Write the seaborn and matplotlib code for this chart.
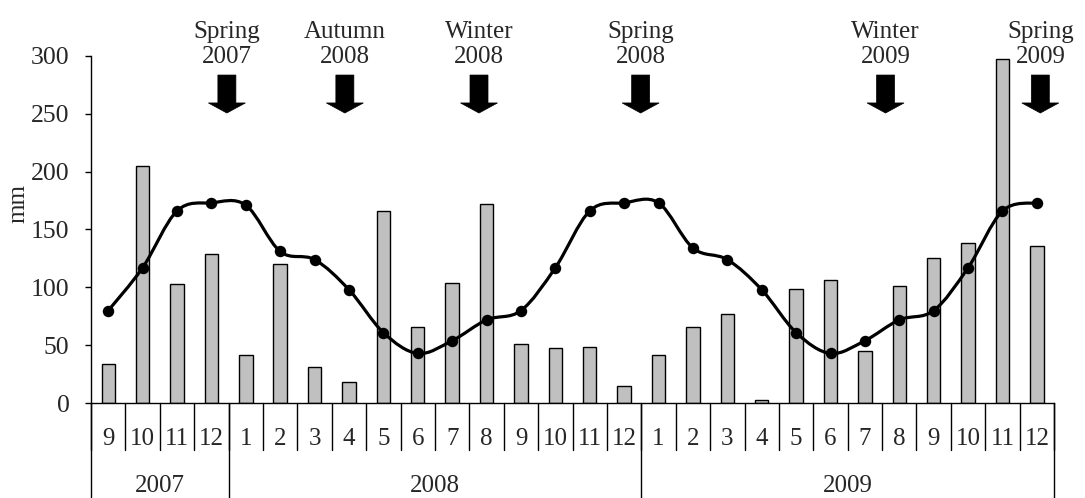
import numpy as np
import pandas as pd
import matplotlib
matplotlib.use("Agg")
import matplotlib.pyplot as plt
import seaborn as sns
from matplotlib.path import Path
from matplotlib.patches import PathPatch, Polygon
from matplotlib.transforms import blended_transform_factory

# ---------------- data ----------------
months = [9, 10, 11, 12,
          1, 2, 3, 4, 5, 6, 7, 8, 9, 10, 11, 12,
          1, 2, 3, 4, 5, 6, 7, 8, 9, 10, 11, 12]
years = [2007] * 4 + [2008] * 12 + [2009] * 12
rainfall = [34, 205, 103, 129,
            42, 120, 31, 18, 166, 66, 104, 172, 51, 48, 49, 15,
            42, 66, 77, 3, 99, 106, 45, 101, 125, 138, 297, 136]
longterm_mean = [80, 117, 166, 173,
                 171, 131, 124, 98, 61, 43, 54, 72, 80, 117, 166, 173,
                 173, 134, 124, 98, 61, 43, 54, 72, 80, 117, 166, 173]
year_labels = ["2007", "2008", "2009"]
season_labels = ["Spring\n2007", "Autumn\n2008", "Winter\n2008",
                 "Spring\n2008", "Winter\n2009", "Spring\n2009"]
season_pos = [3.45, 6.88, 10.78, 15.48, 22.6, 27.1]

# ---------------- style ----------------
sns.set_theme(style="white")
plt.rcParams["font.family"] = ["Liberation Serif", "DejaVu Serif"]

df = pd.DataFrame({
    "key": [f"{y}-{m:02d}" for y, m in zip(years, months)],
    "month": months,
    "year": years,
    "rain": rainfall,
    "mean": longterm_mean,
})
n = len(df)
xpos = np.arange(n)

fig = plt.figure(figsize=(10.85, 4.98), dpi=100)
ax = fig.add_axes([0.0839, 0.1902, 0.8876, 0.698])

sns.barplot(data=df, x="key", y="rain", order=list(df["key"]), ax=ax,
            color="#C0C0C0", saturation=1, edgecolor="black",
            linewidth=1.0, width=0.39, zorder=2)

# smooth curve (Catmull-Rom as cubic Bezier) through the long-term means
pts = np.column_stack([xpos, df["mean"].to_numpy(dtype=float)])
verts = [pts[0]]
codes = [Path.MOVETO]
for i in range(n - 1):
    p0 = pts[i - 1] if i > 0 else pts[i]
    p3 = pts[i + 2] if i + 2 < n else pts[i + 1]
    c1 = pts[i] + (pts[i + 1] - p0) / 6.0
    c2 = pts[i + 1] - (p3 - pts[i]) / 6.0
    verts += [c1, c2, pts[i + 1]]
    codes += [Path.CURVE4] * 3
ax.add_patch(PathPatch(Path(verts, codes), facecolor="none",
                       edgecolor="black", lw=2.3, zorder=3))
sns.scatterplot(x=xpos, y=df["mean"], ax=ax, color="black", s=68,
                edgecolor="black", linewidth=0, zorder=4, legend=False)

ax.set_xlim(-0.5, n - 0.5)
ax.set_ylim(0, 300)
ax.set_yticks(range(0, 301, 50))
ax.tick_params(axis="y", direction="out", length=4.5, width=1,
               color="black", pad=11, labelsize=18.5, left=True)
ax.set_xticks(xpos, labels=[str(m) for m in months])
ax.tick_params(axis="x", length=0, pad=18, labelsize=18)
ax.set_xlabel("")
ax.set_ylabel("mm", fontsize=18, va="center", ha="center")
ax.yaxis.set_label_coords(-0.0758, 0.576)

for s in ["top", "right"]:
    ax.spines[s].set_visible(False)
for s in ["left", "bottom"]:
    ax.spines[s].set_color("black")
    ax.spines[s].set_linewidth(1.0)

# hierarchical category axis dividers
trans = blended_transform_factory(ax.transData, ax.transAxes)
for i in range(n + 1):
    x = i - 0.5
    ax.plot([x, x], [0, -0.135], transform=trans, clip_on=False,
            color="black", lw=1.0)
yr_arr = np.array(years)
bounds = [-0.5]
for j, y in enumerate(year_labels):
    idx = np.where(yr_arr == int(y))[0]
    bounds.append(idx[-1] + 0.5)
    ax.text((idx[0] + idx[-1]) / 2, -0.2543, y, transform=trans,
            ha="center", va="baseline", fontsize=18)
for b in bounds:
    ax.plot([b, b], [0, -0.272], transform=trans, clip_on=False,
            color="black", lw=1.0)

# season arrows and labels
ux = 1 / 34.39   # data units per pixel (x)
uy = 1 / 1.1587  # data units per pixel (y)
for lab, xp in zip(season_labels, season_pos):
    sh, hh = 9 * ux, 18.5 * ux
    ytop, ybase, ytip = 283.3, 259.2, 250.5
    poly = [(xp - sh, ytop), (xp + sh, ytop), (xp + sh, ybase),
            (xp + hh, ybase), (xp, ytip), (xp - hh, ybase), (xp - sh, ybase)]
    ax.add_patch(Polygon(poly, closed=True, facecolor="black",
                         edgecolor="black", lw=0.5, zorder=5, clip_on=False))
    ax.text(xp, 293.7, lab, ha="center", va="baseline", fontsize=18,
            linespacing=1.2, clip_on=False, zorder=6)

fig.savefig("out.png", dpi=100)
